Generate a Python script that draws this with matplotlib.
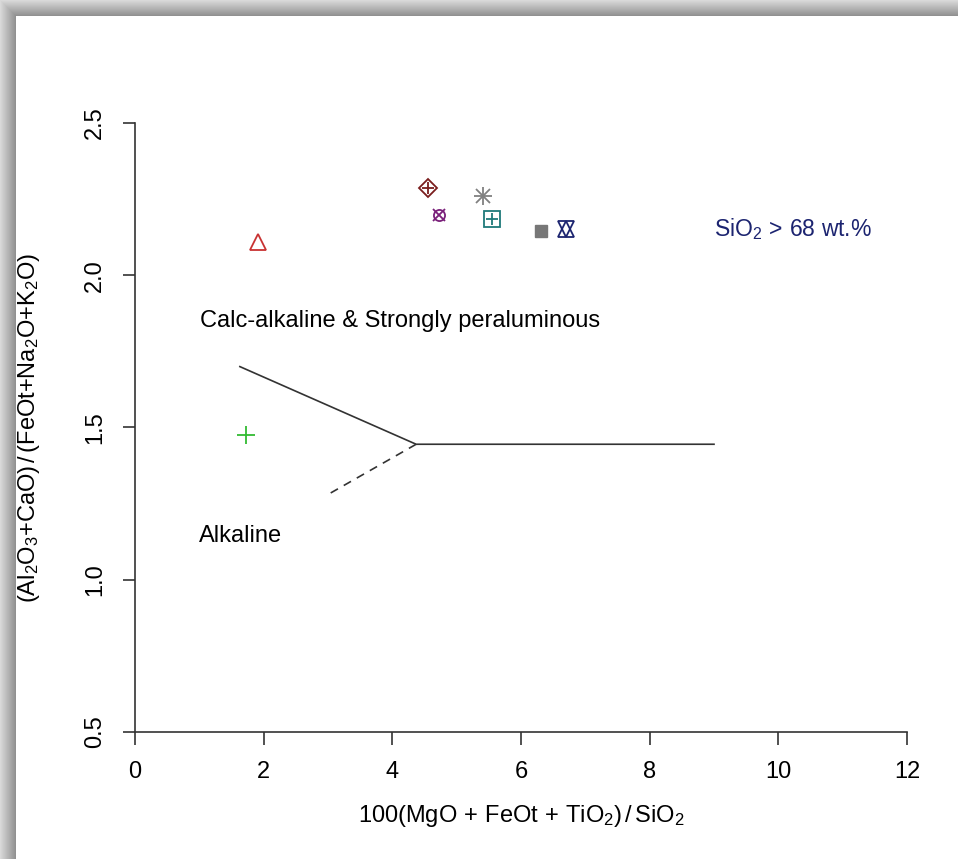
import matplotlib.pyplot as plt
from matplotlib.patches import Rectangle

plt.rcParams['font.family'] = ['Liberation Sans', 'DejaVu Sans']
plt.rcParams['mathtext.fontset'] = 'custom'
plt.rcParams['mathtext.rm'] = 'Liberation Sans'
plt.rcParams['mathtext.it'] = 'Liberation Sans'

# Данные: образцы на диаграмме
sample_x = [1.91, 4.55, 5.41, 4.73, 5.55, 6.31, 6.70, 1.73]
sample_y = [2.109, 2.287, 2.26, 2.198, 2.185, 2.145, 2.152, 1.475]
sample_colors = ['#c83232', '#7a1e1e', '#808080', '#7a207a', '#1f7a7a', '#777777', '#1c2470', '#33bb33']
# маркеры в стиле R (pch): каждый - список наложенных символов
sample_markers = [['^'], ['D', '+'], ['+', 'x'], ['o', 'x'], ['s', '+'], ['s_filled'], ['^', 'v'], ['+']]

# Границы полей (Sylvester)
line_solid_x = [1.63, 4.37, 9.0]
line_solid_y = [1.70, 1.445, 1.445]
line_dash_x = [4.37, 3.0]
line_dash_y = [1.445, 1.28]

fig = plt.figure(figsize=(9.58, 8.59), dpi=100)
fig.patch.set_facecolor('white')

# тень рамки
W, H = 958, 859
band = 16
for i in range(band):
    g = 0.85 - 0.3 * i / band
    fig.add_artist(Rectangle((i / W, 0), 1 / W + 0.0005, 1 - i / H, transform=fig.transFigure,
                             facecolor=(g, g, g), edgecolor='none', zorder=0))
    fig.add_artist(Rectangle((i / W, 1 - (i + 1) / H), 1, 1 / H + 0.0005, transform=fig.transFigure,
                             facecolor=(g, g, g), edgecolor='none', zorder=0))

ax = fig.add_axes([135 / W, 1 - 732 / H, (907 - 135) / W, (732 - 123) / H])
ax.set_facecolor('none')
ax.set_xlim(0, 12)
ax.set_ylim(0.5, 2.5)
ax.spines['top'].set_visible(False)
ax.spines['right'].set_visible(False)
for s in ['left', 'bottom']:
    ax.spines[s].set_color('#333333')
    ax.spines[s].set_linewidth(1.2)
ax.set_xticks([0, 2, 4, 6, 8, 10, 12])
ax.set_yticks([0.5, 1.0, 1.5, 2.0, 2.5])
ax.set_yticklabels(['0.5', '1.0', '1.5', '2.0', '2.5'], rotation=90, va='center')
ax.tick_params(direction='out', length=9, width=1.2, color='#333333', labelsize=17, pad=12)
ax.tick_params(axis='x', pad=12)

ax.plot(line_solid_x, line_solid_y, color='#333333', lw=1.2, clip_on=False)
ax.plot(line_dash_x, line_dash_y, color='#333333', lw=1.2, ls=(0, (5, 4)), clip_on=False)

for x, y, c, mk in zip(sample_x, sample_y, sample_colors, sample_markers):
    for m in mk:
        if m == 's_filled':
            ax.plot(x, y, marker='s', ms=9, color=c, mec=c, ls='none')
        elif m in ('+', 'x'):
            if len(mk) == 1 or mk == ['+', 'x']:
                size = 13 if m == '+' else 10
            else:
                size = 8
            ax.plot(x, y, marker=m, ms=size, color=c, mew=1.3, ls='none')
        else:
            size = {'D': 9, 'o': 8}.get(m, 11)
            ax.plot(x, y, marker=m, ms=size, mfc='none', mec=c, mew=1.3, ls='none')

ax.text(1.01, 1.85, 'Calc-alkaline & Strongly peraluminous', fontsize=17, va='center', ha='left')
ax.text(1.0, 1.144, 'Alkaline', fontsize=17, va='center', ha='left')
ax.text(9.0, 2.152, r'SiO$_2$$\,>\,$68 wt.%', fontsize=16.5, va='center', ha='left', color='#1c2470')

ax.set_xlabel(r'100(MgO$\,+\,$FeOt$\,+\,$TiO$_2$)$\,/\,$SiO$_2$', fontsize=17, labelpad=14)
ax.set_ylabel(r'(Al$_2$O$_3$$+$CaO)$\,/\,$(FeOt$+$Na$_2$O$+$K$_2$O)', fontsize=17, labelpad=30)

plt.savefig('out.png', dpi=100)
